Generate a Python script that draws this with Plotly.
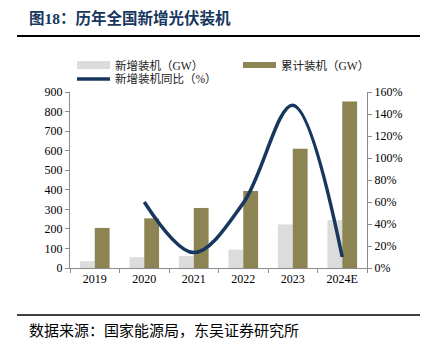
import plotly.graph_objects as go

years = ["2019", "2020", "2021", "2022", "2023", "2024E"]
new_gw = [35, 55, 61, 94, 223, 245]
cum_gw = [205, 254, 307, 394, 610, 852]
yoy_years = ["2020", "2021", "2022", "2023", "2024E"]
yoy_pct = [0.60, 0.14, 0.59, 1.48, 0.10]

W, H = 426, 354
L, R, T, B = 70, 367, 92, 268  # plot area in px

def px(x):
    return (x - L) / (R - L)

def py(y):
    return (B - y) / (B - T)

GRAY = "#DCDCDC"
OLIVE = "#8C8453"
NAVY = "#17375E"
SERIF = "Liberation Serif, Noto Sans CJK SC"
CJK = "Noto Sans CJK SC"

fig = go.Figure()
fig.add_trace(go.Bar(x=years, y=new_gw, name="新增装机（GW）", marker_color=GRAY,
                     marker_line_width=0, yaxis="y"))
fig.add_trace(go.Bar(x=years, y=cum_gw, name="累计装机（GW）", marker_color=OLIVE,
                     marker_line_width=0, yaxis="y"))
fig.add_trace(go.Scatter(x=yoy_years, y=yoy_pct, name="新增装机同比（%）", mode="lines",
                         line=dict(color=NAVY, width=3.5, shape="spline", smoothing=1.0),
                         yaxis="y2"))

axis_col = "#8C8C8C"
fig.update_layout(
    width=W, height=H,
    margin=dict(l=L, r=W - R, t=T, b=H - B),
    paper_bgcolor="white", plot_bgcolor="white",
    showlegend=False,
    barmode="group", bargap=0.4, bargroupgap=0,
    xaxis=dict(type="category", showline=True, linecolor=axis_col, linewidth=1,
               ticks="outside", tickson="boundaries", ticklen=4, tickcolor=axis_col,
               tickfont=dict(family=SERIF, size=12, color="black"), showgrid=False),
    yaxis=dict(range=[0, 900], dtick=100, showline=True, linecolor=axis_col, linewidth=1,
               ticks="outside", ticklen=4, tickcolor=axis_col, showgrid=False, zeroline=False,
               tickfont=dict(family=SERIF, size=12, color="black")),
    yaxis2=dict(range=[0, 1.6], dtick=0.2, tickformat=".0%", overlaying="y", side="right",
                showline=True, linecolor=axis_col, linewidth=1, ticks="outside", ticklen=4,
                tickcolor=axis_col, showgrid=False, zeroline=False,
                tickfont=dict(family=SERIF, size=12, color="black")),
)

shapes = []
annots = []
# title
annots.append(dict(x=px(27), y=py(18), xref="paper", yref="paper", xanchor="left", yanchor="middle",
                   text="<b>图18：历年全国新增光伏装机</b>", showarrow=False,
                   font=dict(family=SERIF, size=15.5, color=NAVY)))
shapes.append(dict(type="line", xref="paper", yref="paper", x0=px(17), x1=px(420), y0=py(36), y1=py(36),
                   line=dict(color="black", width=2)))
# legend
shapes.append(dict(type="rect", xref="paper", yref="paper", x0=px(77), x1=px(110), y0=py(61), y1=py(69),
                   fillcolor=GRAY, line_width=0))
annots.append(dict(x=px(113), y=py(65), xref="paper", yref="paper", xanchor="left", yanchor="middle",
                   text="新增装机（GW）", showarrow=False, font=dict(family=SERIF, size=11.5, color="#222")))
shapes.append(dict(type="rect", xref="paper", yref="paper", x0=px(243), x1=px(276), y0=py(62), y1=py(68),
                   fillcolor=OLIVE, line_width=0))
annots.append(dict(x=px(279), y=py(65), xref="paper", yref="paper", xanchor="left", yanchor="middle",
                   text="累计装机（GW）", showarrow=False, font=dict(family=SERIF, size=11.5, color="#222")))
shapes.append(dict(type="line", xref="paper", yref="paper", x0=px(77), x1=px(110), y0=py(79), y1=py(79),
                   line=dict(color=NAVY, width=3.5)))
annots.append(dict(x=px(113), y=py(79), xref="paper", yref="paper", xanchor="left", yanchor="middle",
                   text="新增装机同比（%）", showarrow=False, font=dict(family=SERIF, size=11.5, color="#222")))
# source
shapes.append(dict(type="line", xref="paper", yref="paper", x0=px(17), x1=px(420), y0=py(315), y1=py(315),
                   line=dict(color="black", width=1.5)))
annots.append(dict(x=px(27), y=py(329), xref="paper", yref="paper", xanchor="left", yanchor="middle",
                   text="数据来源：国家能源局，东吴证券研究所", showarrow=False,
                   font=dict(family=CJK, size=15, color="black")))

fig.update_layout(shapes=shapes, annotations=annots)
fig.write_html("out.html")
